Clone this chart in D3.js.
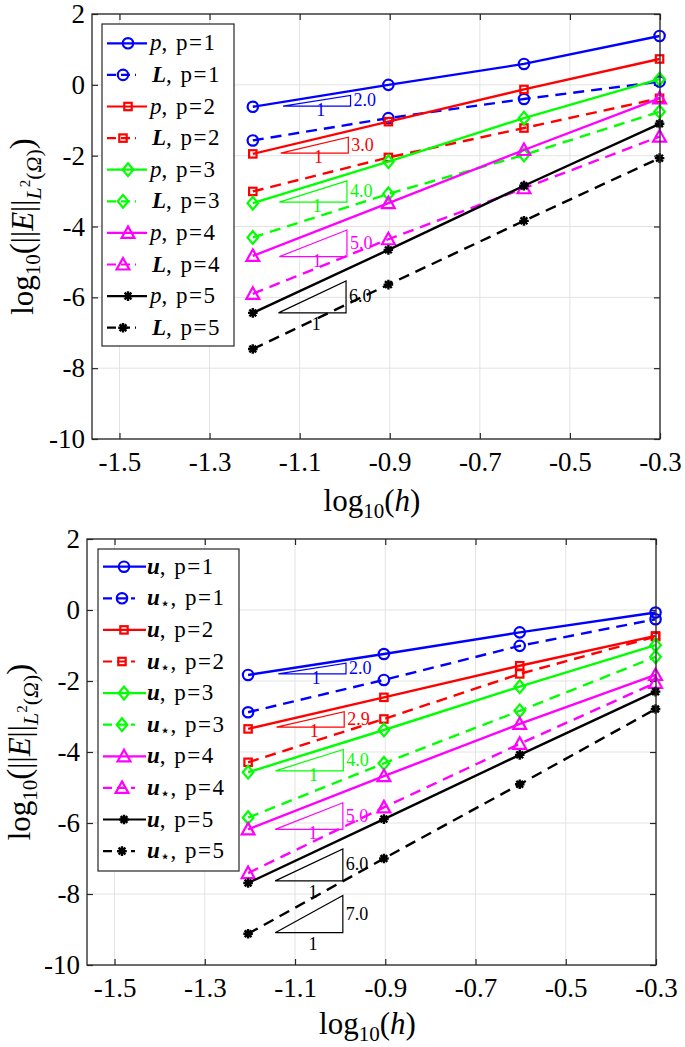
<!DOCTYPE html>
<html><head><meta charset="utf-8">
<script src="https://cdn.jsdelivr.net/npm/d3@7"></script>
<style>
body{margin:0;background:#fff}
svg{display:block}
text{font-family:"Liberation Serif","DejaVu Serif",serif;fill:#000}
</style>
</head><body>
<svg id="c" width="685" height="1047"></svg>
<script>
// ---------------- data ----------------
const xVals = [-1.204, -0.903, -0.602, -0.301];          // log10(h), h = 1/16..1/2
const xTicks = [-1.5, -1.3, -1.1, -0.9, -0.7, -0.5, -0.3];
const yTicks = [-10, -8, -6, -4, -2, 0, 2];
const xDomain = [-1.561, -0.3];
const yDomain = [-10, 2];
const orders = [1, 2, 3, 4, 5];
const colors = ["#0000ff", "#ff0000", "#00ff00", "#ff00ff", "#000000"];
const markerTypes = ["circle", "square", "diamond", "triangle", "asterisk"];

// top panel: p (solid) and L (dashed)
const topP = [
  [-0.62, 0.00, 0.59, 1.38],
  [-1.95, -1.04, -0.13, 0.73],
  [-3.34, -2.17, -0.94, 0.16],
  [-4.83, -3.34, -1.84, -0.38],
  [-6.44, -4.66, -2.85, -1.10]
];
const topL = [
  [-1.57, -0.94, -0.40, 0.09],
  [-3.01, -2.05, -1.22, -0.38],
  [-4.31, -3.08, -1.98, -0.76],
  [-5.90, -4.36, -2.92, -1.46],
  [-7.46, -5.64, -3.84, -2.07]
];
// bottom panel: u (solid) and u_star (dashed)
const botU = [
  [-1.83, -1.24, -0.63, -0.07],
  [-3.35, -2.46, -1.57, -0.73],
  [-4.57, -3.38, -2.16, -0.99],
  [-6.18, -4.68, -3.21, -1.83],
  [-7.69, -5.89, -4.08, -2.30]
];
const botUstar = [
  [-2.88, -1.97, -1.01, -0.26],
  [-4.29, -3.07, -1.80, -0.75],
  [-5.85, -4.32, -2.84, -1.32],
  [-7.41, -5.56, -3.77, -2.05],
  [-9.12, -7.00, -4.91, -2.79]
];
// slope triangles
const topTriX0 = [-1.137, -1.142, -1.145, -1.145, -1.147];
const topTriY0 = [-0.60, -1.93, -3.31, -4.85, -6.44];
const topTriSlope = [2, 3, 4, 5, 6];
const topTriLabel = ["2.0", "3.0", "4.0", "5.0", "6.0"];
const topTriColor = ["#0000ff", "#ff0000", "#00ff00", "#ff00ff", "#000000"];
const botTriX0 = [-1.137, -1.141, -1.143, -1.144, -1.144, -1.144];
const botTriY0 = [-1.80, -3.30, -4.53, -6.18, -7.63, -9.09];
const botTriSlope = [2, 2.9, 4, 5, 6, 7];
const botTriLabel = ["2.0", "2.9", "4.0", "5.0", "6.0", "7.0"];
const botTriColor = ["#0000ff", "#ff0000", "#00ff00", "#ff00ff", "#000000", "#000000"];
const triWidth = 0.15;

// ---------------- drawing ----------------
const svg = d3.select("#c");
const axisColor = "#262626";
const gridColor = "#e3e3e3";
const serif = "'Liberation Serif','DejaVu Serif',serif";

const panels = [
  {box: {l: 92, r: 660, t: 14, b: 439}, solid: topP, dashed: topL,
   sym: ["p", "L"], symStyle: [{it: true, bold: false}, {it: true, bold: true}], star: false,
   tri: {x0: topTriX0, y0: topTriY0, s: topTriSlope, lab: topTriLabel, col: topTriColor},
   leg: {x0: 102, x1: 234, y0: 24, y1: 346, row0: 43.3, step: 31.6, l0: 107, l1: 147, ld1: 136, mk: 128, mkd: 123, tx: 150, txd: 152},
   ylabX: 33, xlabY: 511},
  {box: {l: 87, r: 656, t: 539, b: 965}, solid: botU, dashed: botUstar,
   sym: ["u", "u"], symStyle: [{it: true, bold: true}, {it: true, bold: true}], star: true,
   tri: {x0: botTriX0, y0: botTriY0, s: botTriSlope, lab: botTriLabel, col: botTriColor},
   leg: {x0: 98, x1: 239, y0: 549, y1: 871, row0: 566.7, step: 31.6, l0: 103, l1: 146, ld1: 135, mk: 124, mkd: 122, tx: 147, txd: 147},
   ylabX: 30, xlabY: 1034}
];

function drawMarker(g, type, cx, cy, color) {
  const common = s => s.attr("fill", "none").attr("stroke", color).attr("stroke-width", 2.2);
  if (type === "circle") {
    g.append("circle").attr("cx", cx).attr("cy", cy).attr("r", 5.2).call(common);
  } else if (type === "square") {
    g.append("rect").attr("x", cx - 3.7).attr("y", cy - 3.7).attr("width", 7.4).attr("height", 7.4).call(common);
  } else if (type === "diamond") {
    g.append("path").attr("d", `M${cx},${cy - 6.4}L${cx + 5.3},${cy}L${cx},${cy + 6.4}L${cx - 5.3},${cy}Z`).call(common);
  } else if (type === "triangle") {
    g.append("path").attr("d", `M${cx},${cy - 6.5}L${cx + 6.4},${cy + 5}L${cx - 6.4},${cy + 5}Z`).call(common);
  } else {
    const r = 4.8, d = 3.4;
    g.append("path").attr("d",
      `M${cx - r},${cy}L${cx + r},${cy}M${cx},${cy - r}L${cx},${cy + r}M${cx - d},${cy - d}L${cx + d},${cy + d}M${cx - d},${cy + d}L${cx + d},${cy - d}`)
      .attr("fill", "none").attr("stroke", color).attr("stroke-width", 2.4);
  }
}

panels.forEach(P => {
  const {l, r, t, b} = P.box;
  const x = d3.scaleLinear().domain(xDomain).range([l, r]);
  const y = d3.scaleLinear().domain(yDomain).range([b, t]);
  const g = svg.append("g").attr("font-family", serif);

  // grid
  g.append("g").selectAll("line").data(xTicks).join("line")
    .attr("x1", d => x(d)).attr("x2", d => x(d)).attr("y1", t).attr("y2", b)
    .attr("stroke", gridColor).attr("stroke-width", 1);
  g.append("g").selectAll("line").data(yTicks).join("line")
    .attr("y1", d => y(d)).attr("y2", d => y(d)).attr("x1", l).attr("x2", r)
    .attr("stroke", gridColor).attr("stroke-width", 1);

  // axes (inward ticks on all four sides)
  const fmtX = d => d.toFixed(1);
  const fmtY = d => String(d);
  const ax = [
    g.append("g").attr("transform", `translate(0,${b})`).call(d3.axisBottom(x).tickValues(xTicks).tickSizeInner(-6).tickSizeOuter(0).tickPadding(13).tickFormat(fmtX)),
    g.append("g").attr("transform", `translate(0,${t})`).call(d3.axisTop(x).tickValues(xTicks).tickSizeInner(-6).tickSizeOuter(0).tickFormat("")),
    g.append("g").attr("transform", `translate(${l},0)`).call(d3.axisLeft(y).tickValues(yTicks).tickSizeInner(-6).tickSizeOuter(0).tickPadding(7).tickFormat(fmtY)),
    g.append("g").attr("transform", `translate(${r},0)`).call(d3.axisRight(y).tickValues(yTicks).tickSizeInner(-6).tickSizeOuter(0).tickFormat(""))
  ];
  ax.forEach(a => {
    a.attr("font-family", serif);
    a.select(".domain").remove();
    a.selectAll(".tick line").attr("stroke", axisColor).attr("stroke-width", 1.2);
    a.selectAll(".tick text").attr("font-family", serif).attr("font-size", 27).attr("fill", "#000");
  });
  // data lines
  const line = d3.line().x((d, i) => x(xVals[i])).y(d => y(d));
  const series = [];
  orders.forEach((p, k) => {
    series.push({vals: P.solid[k], color: colors[k], mk: markerTypes[k], dash: null});
    series.push({vals: P.dashed[k], color: colors[k], mk: markerTypes[k], dash: "11,7"});
  });
  const clipId = "clip" + t;
  svg.append("clipPath").attr("id", clipId).append("rect").attr("x", l - 10).attr("y", t - 10).attr("width", r - l + 20).attr("height", b - t + 20);
  const dg = g.append("g").attr("clip-path", `url(#${clipId})`);
  series.forEach(s => {
    dg.append("path").attr("d", line(s.vals)).attr("fill", "none").attr("stroke", s.color)
      .attr("stroke-width", 2.4).attr("stroke-dasharray", s.dash);
    s.vals.forEach((v, i) => drawMarker(dg, s.mk, x(xVals[i]), y(v), s.color));
  });

  // slope triangles
  const T = P.tri;
  T.x0.forEach((x0, i) => {
    const x1 = x0 + triWidth;
    const y0 = T.y0[i], y1 = y0 + T.s[i] * triWidth;
    const c = T.col[i];
    g.append("path")
      .attr("d", `M${x(x0)},${y(y0)}L${x(x1)},${y(y0)}L${x(x1)},${y(y1)}Z`)
      .attr("fill", "none").attr("stroke", c).attr("stroke-width", 1.2);
    g.append("text").attr("x", x(x1) + 3).attr("y", (y(y0) + y(y1)) / 2 + 5.5)
      .attr("font-size", 18).style("fill", c).text(T.lab[i]);
    const off = c === "#000000" ? 17 : 10;
    g.append("text").attr("x", (x(x0) + x(x1)) / 2 + 4).attr("y", y(y0) + off)
      .attr("text-anchor", "middle").attr("font-size", 18).style("fill", c).text("1");
  });

  // box
  g.append("rect").attr("x", l).attr("y", t).attr("width", r - l).attr("height", b - t)
    .attr("fill", "none").attr("stroke", axisColor).attr("stroke-width", 1.3);

  // axis labels
  const xl = g.append("text").attr("x", (l + r) / 2 - 4).attr("y", P.xlabY).attr("text-anchor", "middle").attr("font-size", 31);
  xl.append("tspan").text("log");
  xl.append("tspan").attr("font-size", 21).attr("dy", 7).text("10");
  xl.append("tspan").attr("dy", -7).text("(");
  xl.append("tspan").attr("font-style", "italic").text("h");
  xl.append("tspan").text(")");

  const yl = g.append("text").attr("transform", `translate(${P.ylabX},${(t + b) / 2}) rotate(-90)`)
    .attr("text-anchor", "middle").attr("font-size", 31);
  yl.append("tspan").text("log");
  yl.append("tspan").attr("font-size", 21).attr("dy", 7).text("10");
  yl.append("tspan").attr("dy", -7).attr("font-size", 33).text("(");
  yl.append("tspan").text("||");
  yl.append("tspan").attr("font-style", "italic").text("E");
  yl.append("tspan").text("||");
  yl.append("tspan").attr("font-size", 22).attr("font-style", "italic").attr("dy", 8).text("L");
  yl.append("tspan").attr("font-size", 15).attr("dy", -11).text("2");
  yl.append("tspan").attr("font-size", 22).attr("dy", 11).text("(");
  yl.append("tspan").attr("font-size", 22).attr("font-style", "italic").text("Ω");
  yl.append("tspan").attr("font-size", 22).text(")");
  yl.append("tspan").attr("font-size", 33).attr("dy", -8).text(")");

  // legend
  const L = P.leg;
  const lg = g.append("g");
  lg.append("rect").attr("x", L.x0).attr("y", L.y0).attr("width", L.x1 - L.x0).attr("height", L.y1 - L.y0)
    .attr("fill", "#fff").attr("stroke", axisColor).attr("stroke-width", 1.2);
  series.forEach((s, i) => {
    const cy = L.row0 + i * L.step;
    const dashed = !!s.dash;
    lg.append("line").attr("x1", L.l0).attr("x2", dashed ? L.ld1 : L.l1).attr("y1", cy).attr("y2", cy)
      .attr("stroke", s.color).attr("stroke-width", 2.2).attr("stroke-dasharray", dashed ? "9,5" : null);
    drawMarker(lg, s.mk, dashed ? L.mkd : L.mk, cy, s.color);
    const k = dashed ? 1 : 0;
    const tx = lg.append("text").attr("x", dashed ? L.txd : L.tx).attr("y", cy + 7).attr("font-size", 23);
    tx.append("tspan").attr("font-style", P.symStyle[k].it ? "italic" : null)
      .attr("font-weight", P.symStyle[k].bold ? "bold" : null).text(P.sym[k]);
    const rest = ", p=" + orders[Math.floor(i / 2)];
    if (P.star && dashed) {
      tx.append("tspan").attr("font-family", "'DejaVu Sans',sans-serif").attr("font-size", 17).attr("dy", 4).text("\u22C6");
      tx.append("tspan").attr("dy", -4).attr("letter-spacing", 1.5).text(rest);
    } else {
      tx.append("tspan").attr("letter-spacing", 1.5).text(rest);
    }
  });
});
</script>
</body></html>
